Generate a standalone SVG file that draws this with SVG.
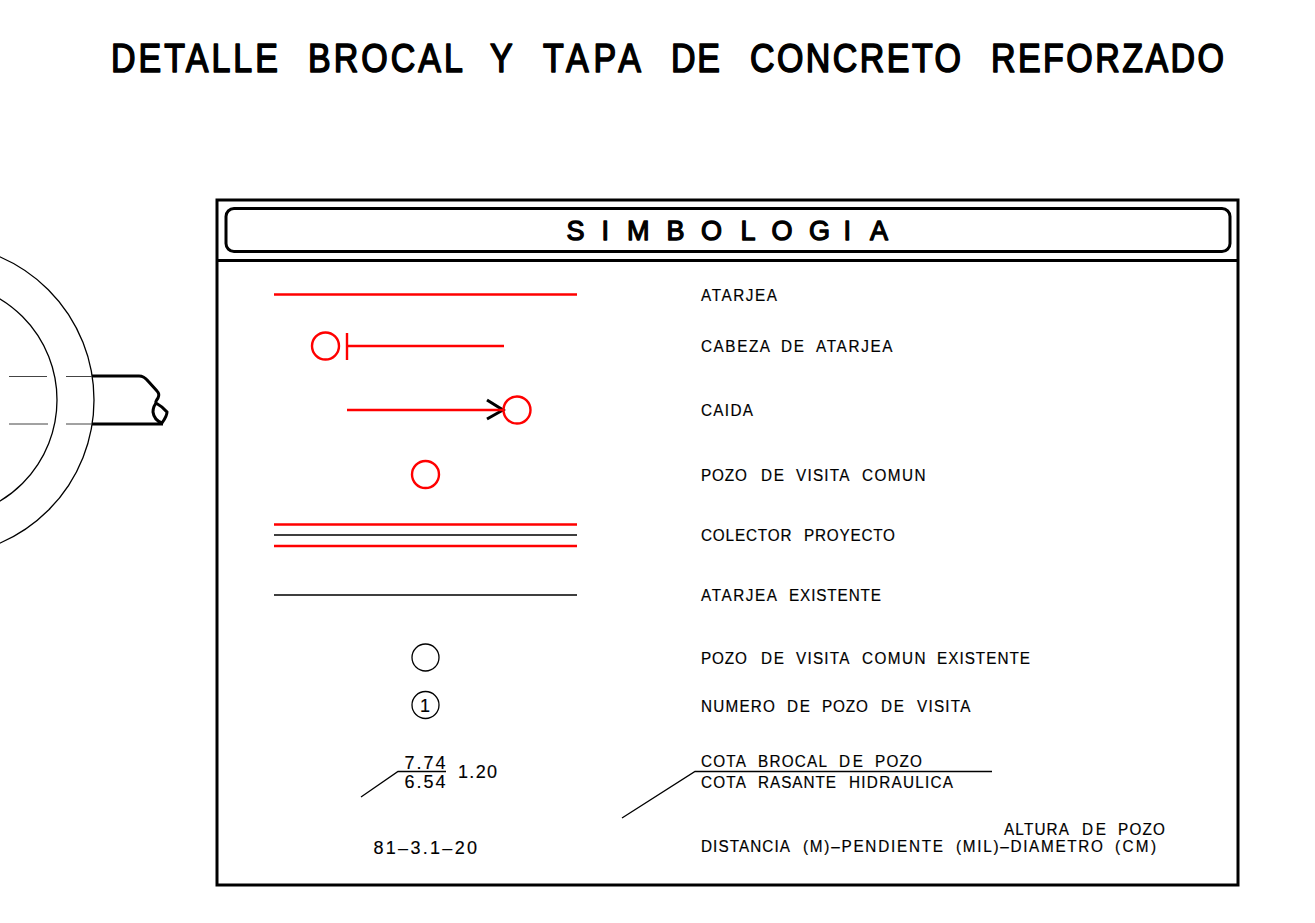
<svg xmlns="http://www.w3.org/2000/svg" width="1315" height="923" viewBox="0 0 1315 923">
<style>
text{font-family:"Liberation Sans",Arial,sans-serif;fill:#000;stroke-linejoin:round}
.t{font-size:17px;stroke:#000;stroke-width:.2}
.n{font-size:18px;stroke:#000;stroke-width:.15}
.title{font-size:40px;stroke:#000;stroke-width:1.6}
.head{font-size:27px;stroke:#000;stroke-width:1.3}
.k{fill:none;stroke:#000;stroke-width:1.3}
.kb{fill:none;stroke:#000;stroke-width:3}
.g{fill:none;stroke:#444;stroke-width:1}
.r{fill:none;stroke:#f00;stroke-width:2.4}
</style>
<rect width="1315" height="923" fill="#fff"/>
<g id="title" transform="scale(.85 1)"><text class="title" y="72.500"><tspan x="130.590" textLength="196.470">DETALLE</tspan> <tspan x="362.350" textLength="182.350">BROCAL</tspan> <tspan x="576.470" textLength="28.240">Y</tspan> <tspan x="638.820" textLength="115.290">TAPA</tspan> <tspan x="789.410" textLength="57.650">DE</tspan> <tspan x="882.350" textLength="248.240">CONCRETO</tspan> <tspan x="1165.880" textLength="274.120">REFORZADO</tspan></text></g>
<g id="detail">
<circle class="k" cx="-62" cy="400" r="156"/>
<circle class="k" cx="-61" cy="400" r="118"/>
<path class="g" d="M9 376.500H47M66 376.500H92M9 424H48M66 424H92"/>
<path class="kb" d="M92 376H139Q144 376 148 381L157 391Q160 394 158 398Q155 402 156 403Q163 407 167 412Q167 416 162 423Q154 420 153 412Q153 406 157 402M92 424H163"/>
</g>
<g id="panel">
<rect class="kb" x="217" y="200" width="1021" height="685"/>
<rect class="kb" x="226" y="208.500" width="1004" height="43" rx="8"/>
<path class="kb" d="M217 260.500H1238"/>
<text class="head" x="566.500 601.500 627 666.500 701 740.500 771.500 809 843.500 870" y="240">SIMBOLOGIA</text>
</g>
<g id="connectors">
<path class="r" d="M274 294.500H577"/>
<path class="r" d="M347 333V360M347 346H504"/>
<path class="kb" d="M487 400L503 410L487 419"/>
<path class="r" d="M347 410H503"/>
<path class="r" d="M274 524.500H577M274 546H577"/>
<path class="k" d="M274 535H577M274 595H577"/>
<path class="k" d="M361 797L398 771.500H446M622 818L695 771.500H992"/>
</g>
<g id="symbols">
<circle class="r" cx="325.500" cy="346" r="13.500"/>
<circle class="r" cx="517" cy="410" r="13.500"/>
<circle class="r" cx="425.500" cy="474.500" r="13.500"/>
<circle class="k" cx="425.500" cy="657.500" r="13.500" stroke-width="1.600"/>
<circle class="k" cx="425.500" cy="705" r="13.500"/>
<text class="n" x="425" y="711.500" text-anchor="middle">1</text>
<text class="n" x="404.500" y="768.500" textLength="41">7.74</text>
<text class="n" x="404.500" y="787.500" textLength="41">6.54</text>
<text class="n" x="458" y="778" textLength="39">1.20</text>
<text class="n" x="373.500" y="854" textLength="103.500">81–3.1–20</text>
</g>
<g id="labels" transform="scale(.9 1)">
<text class="t" x="778.890" y="300.700" textLength="84.440">ATARJEA</text>
<text class="t" y="352"><tspan x="778.890" textLength="76.670">CABEZA</tspan> <tspan x="867.780" textLength="25.560">DE</tspan> <tspan x="906.670" textLength="85">ATARJEA</tspan></text>
<text class="t" x="778.890" y="416" textLength="57.780">CAIDA</text>
<text class="t" y="481"><tspan x="778.890" textLength="51.110">POZO</tspan> <tspan x="845.560" textLength="25.560">DE</tspan> <tspan x="884.440" textLength="59.440">VISITA</tspan> <tspan x="957.780" textLength="70.560">COMUN</tspan></text>
<text class="t" y="541"><tspan x="778.890" textLength="100.560">COLECTOR</tspan> <tspan x="893.330" textLength="101.110">PROYECTO</tspan></text>
<text class="t" y="601.500"><tspan x="778.890" textLength="84.440">ATARJEA</tspan> <tspan x="876.670" textLength="102.220">EXISTENTE</tspan></text>
<text class="t" y="664"><tspan x="778.890" textLength="51.110">POZO</tspan> <tspan x="845.560" textLength="25.560">DE</tspan> <tspan x="884.440" textLength="59.440">VISITA</tspan> <tspan x="957.780" textLength="70.560">COMUN</tspan> <tspan x="1041.110" textLength="103.330">EXISTENTE</tspan></text>
<text class="t" y="711.700"><tspan x="778.890" textLength="82.220">NUMERO</tspan> <tspan x="874.440" textLength="25.560">DE</tspan> <tspan x="913.330" textLength="51.110">POZO</tspan> <tspan x="978.890" textLength="25.560">DE</tspan> <tspan x="1018.890" textLength="59.440">VISITA</tspan></text>
<text class="t" y="767"><tspan x="778.890" textLength="50">COTA</tspan> <tspan x="842.220" textLength="76.670">BROCAL</tspan> <tspan x="932.220" textLength="26.670">DE</tspan> <tspan x="972.220" textLength="52.220">POZO</tspan></text>
<text class="t" y="788"><tspan x="778.890" textLength="50">COTA</tspan> <tspan x="842.220" textLength="86.670">RASANTE</tspan> <tspan x="943.330" textLength="115.560">HIDRAULICA</tspan></text>
<text class="t" y="835.500"><tspan x="1115.560" textLength="72.220">ALTURA</tspan> <tspan x="1202.220" textLength="26.670">DE</tspan> <tspan x="1242.220" textLength="52.220">POZO</tspan></text>
<text class="t" y="852"><tspan x="778.890" textLength="98.890">DISTANCIA</tspan> <tspan x="892.220" textLength="155.560">(M)–PENDIENTE</tspan> <tspan x="1062.220" textLength="163.330">(MIL)–DIAMETRO</tspan> <tspan x="1238.890" textLength="45.560">(CM)</tspan></text>
</g>
</svg>
